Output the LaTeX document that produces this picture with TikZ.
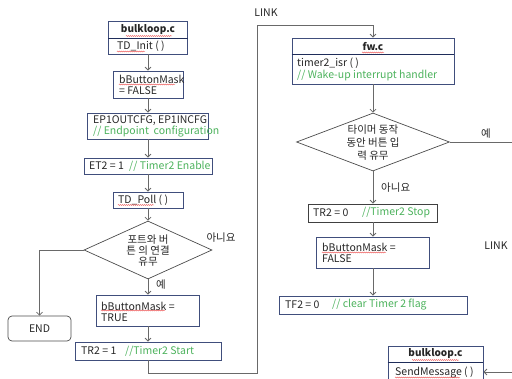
\documentclass[tikz,border=0pt]{standalone}
\usepackage{fontspec}
\setmainfont{Noto Sans CJK KR}
\usetikzlibrary{arrows.meta,shapes.geometric,decorations.pathmorphing}
\definecolor{navy}{RGB}{64,78,124}
\definecolor{divc}{RGB}{31,45,90}
\definecolor{arrc}{RGB}{105,105,105}
\definecolor{txt}{RGB}{38,38,38}
\definecolor{cmt}{RGB}{76,178,92}
\definecolor{squigc}{RGB}{235,70,70}
\begin{document}
\begin{tikzpicture}[x=1pt,y=-1pt,
  box/.style={draw=navy, line width=0.8pt, inner sep=0pt},
  gbox/.style={draw=black!75, line width=0.8pt, inner sep=0pt},
  dia/.style={diamond, draw=black!70, line width=0.7pt, inner sep=0pt},
  txtn/.style={inner sep=0pt, text=txt, font=\fontsize{10.5}{11}\selectfont, anchor=west, align=left},
  cmtn/.style={txtn, text=cmt},
  hdr/.style={inner sep=0pt, text=txt, font=\fontsize{10}{11}\selectfont\bfseries},
  lbl/.style={inner sep=0pt, text=txt, font=\fontsize{10.5}{11}\selectfont},
  arr/.style={draw=arrc, line width=0.8pt, -{Straight Barb[length=3pt,width=6pt]}},
  ln/.style={draw=arrc, line width=0.8pt},
  divl/.style={draw=divc, line width=0.9pt},
  squig/.style={draw=squigc, line width=0.4pt, decorate, decoration={snake, amplitude=0.5pt, segment length=2pt}}
]
\useasboundingbox (0,0) rectangle (512,378);

% ---------- left column ----------
\node[box, minimum width=79, minimum height=33] (bl1) at (148,37.5) {};
\coordinate (y38) at (0,38);
\draw[divl] (bl1.west |- y38) -- (bl1.east |- y38);
\node[hdr] (bl1h) at (148,30) {bulkloop.c};
\node[txtn] (bl1t) at (117,46) {TD\_Init ( )};

\node[box, minimum width=70, minimum height=27] (m1) at (148,84.5) {};
\node[txtn] (m1t) at (119,85) {bButtonMask\\= FALSE};

\node[box, minimum width=121, minimum height=26] (ep) at (148,126) {};
\node[txtn] (ept) at (93,126.5) {EP1OUTCFG, EP1INCFG\\\textcolor{cmt}{// Endpoint\ \ configuration}};

\node[box, minimum width=128, minimum height=16] (et) at (148,166) {};
\node[txtn] (ett) at (89,166) {ET2 = 1};
\node[cmtn] (etc) at (129,166) {// Timer2 Enable};

\node[box, minimum width=70, minimum height=16] (poll) at (148,200) {};
\node[txtn] (pollt) at (118,200) {TD\_Poll ( )};

\node[dia, minimum width=128, minimum height=58] (d1) at (148,250) {};
\node[lbl, align=center, font=\fontsize{10.5}{11}\selectfont] (d1t) at (148,251) {포트와 버\\튼 의 연결\\유무};

\node[box, minimum width=103, minimum height=31] (mt) at (148,310.5) {};
\node[txtn] (mtt) at (101,311.5) {bButtonMask =\\TRUE};

\node[box, minimum width=146, minimum height=18] (tr1) at (148,351) {};
\node[txtn] (tr1t) at (81,351) {TR2 = 1};
\node[cmtn] (tr1c) at (125,351) {//Timer2 Start};

\node[draw=black!70, line width=0.7pt, rounded corners=4pt, minimum width=63, minimum height=25, inner sep=0pt, text=txt, font=\fontsize{10.5}{11}\selectfont] (end) at (39.5,328.5) {END};

% ---------- right column ----------
\node[box, minimum width=162, minimum height=46] (fw) at (373,61) {};
\coordinate (y54) at (0,54);
\draw[divl] (fw.west |- y54) -- (fw.east |- y54);
\node[hdr] (fwh) at (373,46.5) {fw.c};
\node[txtn] (fwt) at (297,63) {timer2\_isr ( )};
\node[cmtn] (fwc) at (297,76) {// Wake-up interrupt handler};

\node[dia, minimum width=153, minimum height=58] (d2) at (373,142) {};
\node[lbl, align=center, font=\fontsize{10.5}{13}\selectfont] (d2t) at (373,142.5) {타이머 동작\\동안 버튼 입\\력 유무};

\node[gbox, minimum width=129, minimum height=18] (tr0) at (373,213) {};
\node[txtn] (tr0t) at (313,213) {TR2 = 0};
\node[cmtn] (tr0c) at (362,213) {//Timer2 Stop};

\node[box, minimum width=113, minimum height=31] (m2) at (373,252.5) {};
\node[txtn] (m2t) at (322,253) {bButtonMask =\\FALSE};

\node[box, minimum width=188, minimum height=18] (tf) at (373,305) {};
\node[txtn] (tft) at (285,305) {TF2 = 0};
\node[cmtn] (tfc) at (332,305) {// clear Timer 2 flag};

\node[box, minimum width=95, minimum height=46] (bl2) at (435.5,369) {};
\coordinate (y362) at (0,362);
\draw[divl] (bl2.west |- y362) -- (bl2.east |- y362);
\node[hdr] (bl2h) at (435.5,354) {bulkloop.c};
\node[txtn] (bl2t) at (395,373) {SendMessage ( )};

% ---------- labels ----------
\node[lbl] (link1) at (266,13) {LINK};
\node[lbl] (link2) at (496,246) {LINK};
\node[lbl] (no1) at (221,238) {아니요};
\node[lbl] (yes1) at (161,285) {예};
\node[lbl] (yes2) at (486,134) {예};
\node[lbl, anchor=west] (no2) at (381,188) {아니요};

% ---------- connectors ----------
\draw[arr] (bl1) -- (m1);
\draw[arr] (m1) -- (ep);
\draw[arr] (ep) -- (et);
\draw[arr] (et) -- (poll);
\draw[arr] (poll) -- (d1);
\draw[arr] (d1) -- (mt);
\draw[arr] (mt) -- (tr1);
\draw[arr] (d1.west) -| (end.north);
\coordinate (c1) at (148,373);
\coordinate (c2) at (257,373);
\coordinate (c3) at (257,25);
\coordinate (c4) at (373,25);
\draw[arr] (tr1.south) -- (c1) -- (c2) -- (c3) -- (c4) -- (fw.north);

\draw[arr] (fw) -- (d2);
\draw[arr] (d2) -- (tr0);
\draw[arr] (tr0) -- (m2);
\draw[arr] (m2) -- (tf);
\coordinate (r1) at (512,142);
\draw[ln] (d2.east) -- (r1);
\coordinate (r2) at (512,372);
\draw[arr] (r2) -- (bl2.east |- r2);

% ---------- spell-check underlines ----------
\draw[squig] (126,36) -- (172,36);
\draw[squig] (117,51.5) -- (145,51.5);
\draw[squig] (119,84.5) -- (175,84.5);
\draw[squig] (118,205) -- (154,205);
\draw[squig] (101,310.5) -- (165,310.5);
\draw[squig] (362,52.5) -- (384,52.5);
\draw[squig] (322,252.5) -- (386,252.5);
\draw[squig] (412,360) -- (459,360);
\draw[squig] (395,377.5) -- (460,377.5);
\end{tikzpicture}
\end{document}
